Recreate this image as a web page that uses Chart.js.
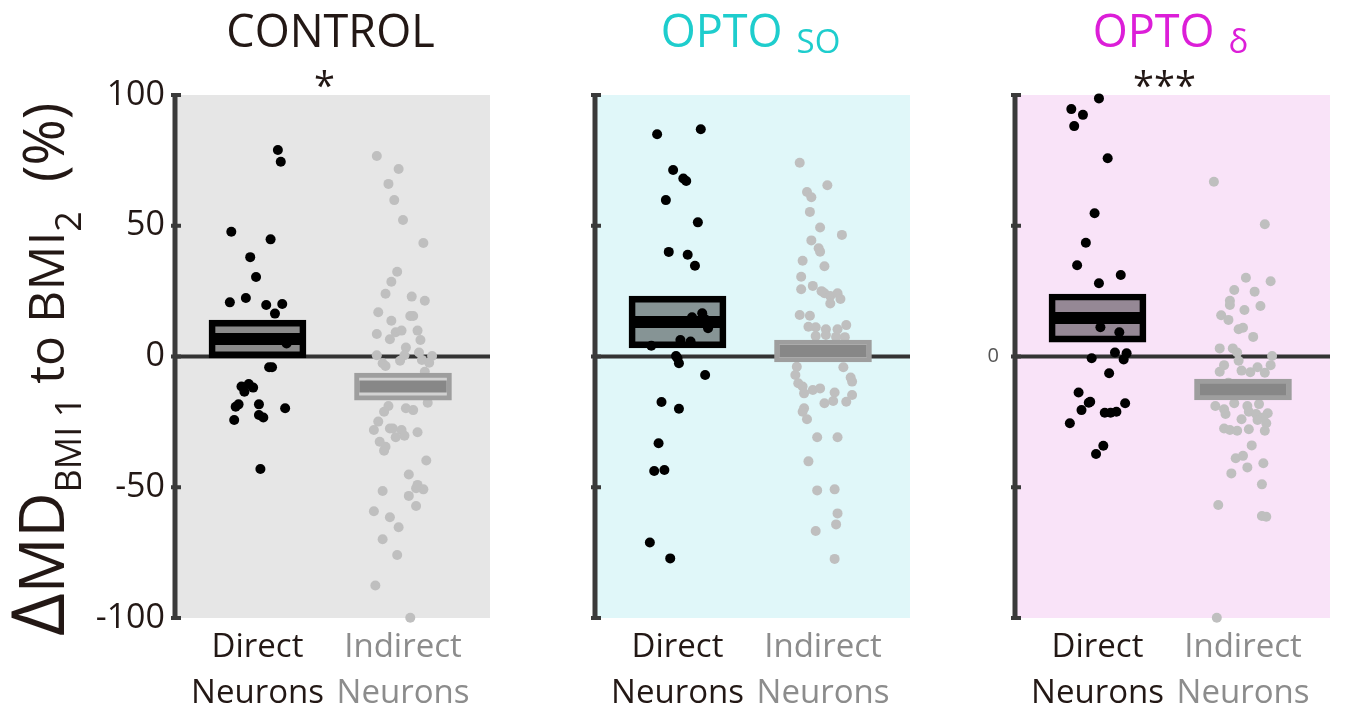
<!DOCTYPE html>
<html>
<head>
<meta charset="utf-8">
<script src="https://cdn.jsdelivr.net/npm/chart.js@4.4.1/dist/chart.umd.min.js"></script>
<style>
  html, body { margin: 0; padding: 0; background: #fff; overflow: hidden; }
  body { width: 1345px; height: 713px; position: relative; }
  canvas { position: absolute; top: 0; }
</style>
</head>
<body>
<canvas id="c0" width="505" height="713" style="left:0px"></canvas>
<canvas id="c1" width="505" height="713" style="left:420px"></canvas>
<canvas id="c2" width="505" height="713" style="left:840px"></canvas>
<script>
// categorije i oznake
const categories = [["Direct", "Neurons"], ["Indirect", "Neurons"]];
const yTicks = [-100, -50, 0, 50, 100];
const panelNames = ["CONTROL", "OPTO", "OPTO"];
const panelSubs = ["", "SO", "δ"];
const significance = ["*", "", "***"];

// CONTROL - direktni neuroni (vrednost, pomeraj po x)
const ctrlDirect = [79.0, 74.5, 47.7, 44.8, 38.0, 30.4, 20.7, 22.4, 19.7, 20.1,
  16.4, 5.0, -4.1, -4.1, -11.5, -10.5, -11.9, -13.5, -18.3, -19.2,
  -18.3, -19.8, -22.4, -23.3, -24.3, -43.0];
const ctrlDirectJit = [0.14, 0.16, -0.18, 0.09, -0.05, -0.01, -0.19, -0.08, 0.06, 0.17,
  0.12, 0.20, 0.08, 0.10, -0.11, -0.06, -0.03, -0.09, -0.13, -0.15,
  0.01, 0.19, 0.01, 0.04, -0.16, 0.02];
// CONTROL - indirektni neuroni
const ctrlIndirect = [76.7, 71.7, 66.0, 59.8, 52.2, 43.4, 32.4, 28.6, 24.0, 22.9,
  21.3, 16.9, 13.7, 15.5, 15.5, 9.3, 9.9, 9.9, 8.6, 6.6,
  6.3, 3.4, 0.5, 0.5, 1.5, 0.2, -2.6, -3.6, -1.6, -1.3,
  -2.4, -5.8, -17.7, -18.9, -21.1, -19.8, -20.5, -24.9, -28.1, -27.5,
  -27.5, -28.1, -30.3, -30.9, -29.0, -32.6, -34.5, -36.0, -39.8, -45.1,
  -49.1, -50.8, -50.4, -51.4, -53.3, -57.2, -59.2, -61.5, -65.3, -69.9,
  -75.9, -87.6, -99.9, -10.0, -13.0];
const ctrlIndirectJit = [-0.18, -0.03, -0.10, -0.06, 0.00, 0.14, -0.04, -0.08, -0.12, 0.06,
  0.15, -0.17, -0.08, 0.05, 0.07, -0.05, -0.01, 0.10, -0.18, -0.09,
  0.12, 0.02, -0.18, 0.01, 0.11, 0.20, -0.14, -0.12, -0.02, 0.13,
  0.18, 0.15, 0.17, -0.10, -0.13, 0.02, 0.07, -0.17, -0.20, -0.09,
  -0.07, -0.01, 0.01, -0.05, 0.10, -0.16, -0.12, -0.13, 0.16, 0.04,
  0.10, 0.14, 0.09, -0.14, 0.04, 0.09, -0.20, -0.09, -0.03, -0.14,
  -0.04, -0.19, 0.05, -0.10, 0.05];

// OPTO SO
const soDirect = [85.0, 86.9, 71.3, 68.1, 67.1, 59.8, 51.3, 40.0, 38.9, 34.7,
  15.0, 16.5, 14.2, 10.8, 6.3, 5.7, 4.1, 0.2, -0.7, -2.6,
  -7.1, -17.4, -20.0, -33.2, -43.8, -43.4, -71.1, -77.2];
const soDirectJit = [-0.14, 0.16, -0.03, 0.04, 0.06, -0.08, 0.14, -0.06, 0.07, 0.12,
  0.10, 0.17, 0.19, 0.21, 0.02, 0.09, -0.18, -0.01, 0.00, 0.01,
  0.19, -0.11, 0.01, -0.13, -0.16, -0.09, -0.19, -0.05];
const soIndirect = [74.1, 65.5, 62.9, 60.9, 55.3, 49.3, 46.5, 44.4, 41.4, 40.1,
  36.6, 34.5, 30.5, 25.7, 27.0, 25.0, 24.2, 23.1, 24.2, 22.0,
  20.3, 15.9, 15.6, 11.4, 11.2, 10.4, 10.4, 12.0, 7.8, 8.2,
  7.5, 7.4, -3.9, -7.1, -10.2, -4.1, -8.0, -9.6, -11.5, -14.1,
  -12.8, -12.2, -13.8, -14.7, -17.3, -17.0, -17.9, -19.8, -21.1, -24.0,
  -30.9, -30.9, -40.1, -51.2, -50.8, -60.0, -64.2, -66.7, -77.4, 3.0,
  1.0, 4.0];
const soIndirectJit = [-0.16, 0.03, -0.11, -0.08, -0.09, -0.02, 0.13, -0.08, -0.03, -0.02,
  -0.14, 0.01, -0.15, -0.15, -0.07, -0.01, 0.01, 0.05, 0.10, 0.12,
  0.05, -0.16, -0.09, -0.10, -0.05, 0.02, 0.10, 0.16, -0.05, 0.02,
  0.09, 0.15, -0.18, -0.19, -0.17, 0.14, 0.19, 0.20, -0.14, -0.13,
  -0.07, -0.02, 0.08, 0.20, 0.16, 0.07, 0.01, -0.13, -0.14, -0.11,
  -0.04, 0.10, -0.10, -0.04, 0.08, 0.10, 0.09, -0.05, 0.08, -0.10,
  0.05, 0.15];

// OPTO delta
const deltaDirect = [98.7, 94.6, 92.4, 88.1, 75.8, 54.8, 43.5, 34.9, 31.2, 28.0,
  11.2, 9.3, 1.5, 1.2, -1.1, -0.7, -6.4, -13.8, -17.7, -17.3,
  -17.9, -20.5, -21.5, -21.5, -21.1, -25.5, -34.1, -37.3];
const deltaDirectJit = [0.01, -0.18, -0.10, -0.16, 0.07, -0.02, -0.08, -0.14, 0.16, 0.01,
  0.02, 0.15, 0.12, 0.20, 0.18, -0.04, 0.08, -0.13, -0.06, -0.05,
  0.19, -0.11, 0.05, 0.09, 0.13, -0.19, 0.04, -0.01];
const deltaIndirect = [66.8, 50.6, 30.1, 28.8, 25.4, 24.8, 21.3, 19.7, 19.3, 17.8,
  15.8, 14.0, 10.4, 11.0, 7.5, 3.1, 3.1, 1.5, 0.2, -1.6,
  -5.8, -3.3, -5.4, -6.0, -4.1, -6.2, -3.3, -18.9, -20.2, -22.0,
  -17.9, -18.9, -18.2, -21.1, -22.0, -21.7, -23.3, -24.0, -24.3, -25.5,
  -27.5, -28.1, -28.4, -27.8, -28.4, -34.0, -38.9, -38.0, -42.4, -40.8,
  -44.7, -48.9, -56.8, -61.0, -61.3, -99.9, -10.0, -14.0];
const deltaIndirectJit = [-0.20, 0.15, 0.02, 0.19, -0.06, 0.08, -0.09, -0.09, 0.12, 0.01,
  -0.15, -0.10, -0.03, 0.00, 0.07, -0.16, -0.07, -0.04, 0.20, -0.03,
  -0.16, -0.13, -0.01, 0.05, 0.10, 0.15, 0.19, -0.19, -0.13, -0.12,
  -0.06, 0.03, 0.11, 0.04, 0.09, 0.17, 0.14, -0.01, 0.10, 0.16,
  -0.13, -0.09, -0.04, 0.04, 0.15, 0.06, -0.05, 0.00, 0.03, 0.14,
  -0.08, 0.13, -0.17, 0.13, 0.16, -0.18, -0.10, 0.12];

// srednje vrednosti i SEM
const directMean = [6.7, 13.2, 14.7];
const directSem = [7.2, 9.9, 9.2];
const indirectMean = [-11.5, 2.1, -12.6];
const indirectSem = [5.2, 4.2, 4.0];

const directSets = [[ctrlDirect, ctrlDirectJit], [soDirect, soDirectJit], [deltaDirect, deltaDirectJit]];
const indirectSets = [[ctrlIndirect, ctrlIndirectJit], [soIndirect, soIndirectJit], [deltaIndirect, deltaIndirectJit]];

// izgled
const FONT = '"Open Sans", "Noto Sans", sans-serif';
const TXT = '#231815';
const panelBg = ['#e6e6e6', '#e0f7f9', '#f9e3f8'];
const titleColors = ['#231815', '#1ecdcd', '#dc1ed8'];
const X_MIN = 0.433, X_MAX = 2.598;

function toPoints(vals, jit, cat) {
    return vals.map((v, k) => ({ x: cat + jit[k], y: v }));
}

function panelPlugin(i) {
    return {
        id: 'panel' + i,
        beforeDatasetsDraw(chart) {
            const a = chart.chartArea, c = chart.ctx;
            c.save();
            c.fillStyle = panelBg[i];
            c.fillRect(a.left, a.top, a.right - a.left, a.bottom - a.top);
            c.restore();
        },
        afterDatasetsDraw(chart) {
            const a = chart.chartArea, c = chart.ctx, ys = chart.scales.y;
            c.save();
            c.strokeStyle = '#3a3a3a';
            c.lineWidth = 5;
            c.beginPath();
            c.moveTo(a.left, ys.getPixelForValue(100) - 2);
            c.lineTo(a.left, ys.getPixelForValue(-100) + 2);
            c.stroke();
            c.lineWidth = 4;
            yTicks.forEach(v => {
                const py = ys.getPixelForValue(v);
                c.beginPath();
                c.moveTo(a.left - 4, py);
                c.lineTo(a.left + 6, py);
                c.stroke();
            });
            c.restore();
        },
        afterDraw(chart) {
            const a = chart.chartArea, c = chart.ctx, xs = chart.scales.x;
            c.save();
            // naslov panela
            const cx = (a.left + a.right) / 2;
            c.font = '45px ' + FONT;
            const wMain = c.measureText(panelNames[i]).width;
            let wSub = 0;
            const gap = 14;
            if (panelSubs[i]) {
                c.font = '33px ' + FONT;
                wSub = c.measureText(panelSubs[i]).width + gap;
            }
            const x0 = cx - (wMain + wSub) / 2 - 2;
            c.fillStyle = titleColors[i];
            c.textBaseline = 'alphabetic';
            c.textAlign = 'left';
            c.font = '45px ' + FONT;
            c.fillText(panelNames[i], x0, 47);
            if (panelSubs[i]) {
                c.font = '33px ' + FONT;
                c.fillText(panelSubs[i], x0 + wMain + gap, 53);
            }
            // zvezdice
            if (significance[i]) {
                c.fillStyle = TXT;
                c.font = '38px ' + FONT;
                c.textAlign = 'center';
                c.fillText(significance[i], xs.getPixelForValue(1.46), 99);
            }
            // naslov y ose
            if (i === 0) {
                c.translate(64, 636);
                c.rotate(-Math.PI / 2);
                c.textAlign = 'left';
                c.fillStyle = TXT;
                const runs = [['Δ', 74, 0], ['MD', 62, 0], ['BMI 1', 36, 17], [' to BMI', 50, 0], ['2', 36, 17], ['  (%)', 56, 0]];
                let px = 0;
                runs.forEach(([t, s, dy]) => {
                    c.font = s + 'px ' + FONT;
                    c.fillText(t, px, dy);
                    px += c.measureText(t).width;
                });
            }
            c.restore();
        }
    };
}

function makeChart(i) {
    const ctx = document.getElementById('c' + i).getContext('2d');
    const dm = directMean[i], ds = directSem[i], im = indirectMean[i], is = indirectSem[i];
    return new Chart(ctx, {
        type: 'scatter',
        data: {
            datasets: [
                {
                    type: 'line', order: 5,
                    data: [{ x: X_MIN, y: 0 }, { x: X_MAX, y: 0 }],
                    borderColor: '#333333', borderWidth: 4, pointRadius: 0, clip: false
                },
                {
                    order: 4,
                    data: toPoints(indirectSets[i][0], indirectSets[i][1], 2),
                    backgroundColor: '#bfbfbf', borderWidth: 0, pointRadius: 5, clip: false
                },
                {
                    order: 4,
                    data: toPoints(directSets[i][0], directSets[i][1], 1),
                    backgroundColor: '#000000', borderWidth: 0, pointRadius: 5, clip: false
                },
                {
                    type: 'bar', order: 3, grouped: false,
                    data: [{ x: 1, y: [dm - ds, dm + ds] }],
                    backgroundColor: 'rgba(0,0,0,0.4)', borderColor: '#000000',
                    borderWidth: 6, borderSkipped: false, barThickness: 97
                },
                {
                    type: 'bar', order: 3, grouped: false,
                    data: [{ x: 2, y: [im - is, im + is] }],
                    backgroundColor: '#d2d2d2', borderColor: '#9e9e9e',
                    borderWidth: 5, borderSkipped: false, barThickness: 97
                },
                {
                    type: 'line', order: 1,
                    data: [{ x: 1 - 0.31, y: dm }, { x: 1 + 0.31, y: dm }],
                    borderColor: '#000000', borderWidth: 12, pointRadius: 0, borderCapStyle: 'butt'
                },
                {
                    type: 'line', order: 1,
                    data: [{ x: 2 - 0.3, y: im }, { x: 2 + 0.3, y: im }],
                    borderColor: '#878787', borderWidth: 12, pointRadius: 0, borderCapStyle: 'butt'
                }
            ]
        },
        options: {
            responsive: false,
            animation: false,
            events: [],
            layout: { padding: { top: 95, left: 0, right: 15, bottom: 0 } },
            plugins: { legend: { display: false }, tooltip: { enabled: false }, title: { display: false } },
            scales: {
                x: {
                    type: 'linear', min: X_MIN, max: X_MAX, offset: false,
                    afterBuildTicks: s => { s.ticks = [{ value: 1 }, { value: 2 }]; },
                    afterFit: s => { s.height = 95; },
                    grid: { display: false, drawTicks: false },
                    border: { display: false },
                    ticks: {
                        autoSkip: false, maxRotation: 0, padding: 6,
                        font: { family: FONT, size: 33, lineHeight: 1.4 },
                        color: c => c.index === 0 ? TXT : '#8c8c8c',
                        callback: (v, idx) => categories[idx]
                    }
                },
                y: {
                    type: 'linear', min: -100, max: 100,
                    afterBuildTicks: s => { s.ticks = yTicks.map(v => ({ value: v })); },
                    afterFit: s => { s.width = 175; },
                    grid: { display: false, drawTicks: false },
                    border: { display: false },
                    ticks: {
                        display: i !== 1,
                        padding: i === 0 ? 10 : 16,
                        font: { family: FONT, size: i === 0 ? 34 : 20 },
                        color: i === 0 ? TXT : '#555555',
                        callback: v => i === 0 ? String(v) : (v === 0 ? '0' : '')
                    }
                }
            }
        },
        plugins: [panelPlugin(i)]
    });
}

[0, 1, 2].forEach(makeChart);
</script>
</body>
</html>
